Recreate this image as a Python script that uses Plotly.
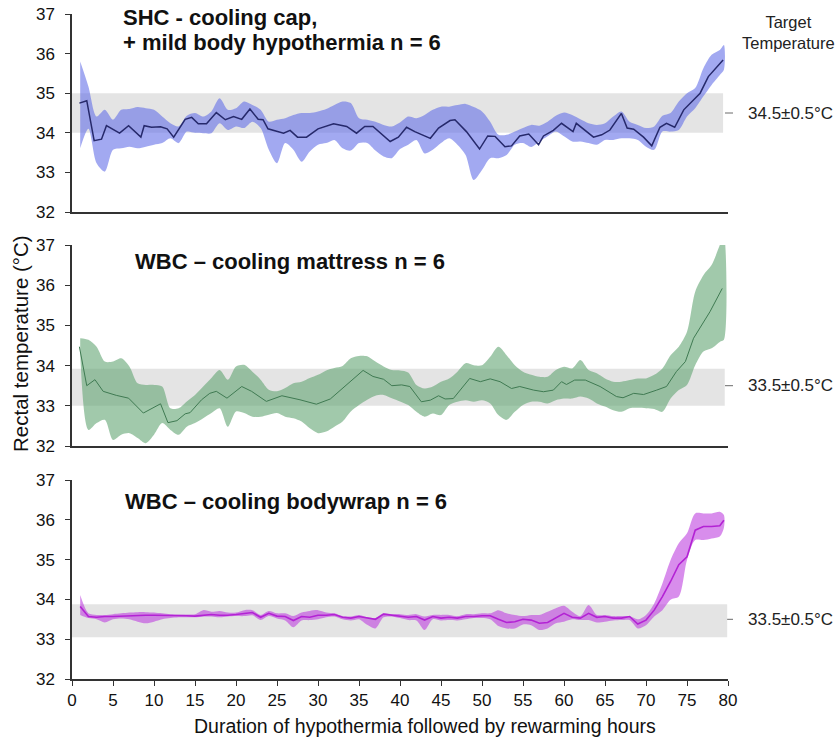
import plotly.graph_objects as go

# ---------------- data ----------------
# Panel 1: SHC - cooling cap + mild body hypothermia (mean line vertices)
shc_line_hours = [0.9, 1.8, 2.7, 3.6, 4.2, 5.8, 6.9, 8.4, 8.8, 9.7, 10.8, 11.6, 12.4, 13.8, 14.6, 15.4,
                  16.4, 17.6, 18.7, 19.7, 20.7, 21.7, 22.7, 23.3, 23.9, 25.8, 26.6, 27.5, 28.6, 30.0,
                  31.9, 33.5, 34.7, 35.7, 36.7, 37.8, 38.8, 39.8, 40.8, 41.8, 43.7, 44.7, 46.1, 46.7,
                  48.1, 49.7, 50.7, 51.6, 52.8, 53.6, 54.6, 55.7, 56.9, 57.5, 58.7, 59.7, 61.1, 61.5,
                  63.6, 64.6, 65.6, 67.0, 67.7, 68.5, 69.7, 70.7, 71.7, 72.5, 73.5, 74.6, 76.6, 77.6, 79.4]
shc_mean = [34.75, 34.81, 33.80, 33.84, 34.18, 33.99, 34.18, 33.89, 34.18, 34.14, 34.15, 34.10, 33.89,
            34.34, 34.39, 34.23, 34.23, 34.51, 34.33, 34.41, 34.34, 34.60, 34.34, 34.33, 34.10, 33.99,
            34.06, 33.89, 33.89, 34.10, 34.23, 34.16, 33.99, 34.16, 34.16, 33.95, 33.78, 33.89, 34.14,
            34.03, 33.86, 34.12, 34.31, 34.33, 34.03, 33.59, 33.92, 33.91, 33.65, 33.67, 33.92, 33.97,
            33.70, 33.92, 34.06, 34.24, 34.03, 34.24, 33.89, 33.95, 34.07, 34.49, 34.12, 34.09, 33.89,
            33.67, 34.14, 34.24, 34.14, 34.58, 35.00, 35.42, 35.84]

band_hours = list(range(1, 80)) + [79.5]
shc_upper = [35.80, 35.17, 34.41, 34.58, 34.33, 34.58, 34.60, 34.65, 34.62, 34.58,
             34.41, 34.24, 34.16, 34.43, 34.50, 34.41, 34.54, 34.87, 34.58, 34.62,
             34.79, 34.70, 34.58, 34.28, 34.33, 34.37, 34.45, 34.50, 34.50, 34.54,
             34.60, 34.70, 34.79, 34.75, 34.37, 34.33, 34.28, 34.20, 34.16, 34.26,
             34.41, 34.37, 34.45, 34.58, 34.66, 34.66, 34.70, 34.73, 34.65, 34.54,
             34.28, 33.95, 33.95, 34.03, 34.12, 34.20, 34.18, 34.28, 34.43, 34.51,
             34.45, 34.34, 34.24, 34.20, 34.24, 34.41, 34.54, 34.28, 34.20, 34.12,
             34.16, 34.43, 34.50, 34.79, 35.00, 35.13, 35.63, 35.97, 36.09, 36.22]
shc_lower = [33.61, 34.10, 33.23, 33.02, 33.57, 33.61, 33.65, 33.61, 33.65, 33.70,
             33.74, 33.86, 33.74, 34.03, 34.00, 33.99, 33.99, 34.24, 34.07, 34.16,
             34.12, 34.28, 34.12, 33.57, 33.23, 33.74, 33.57, 33.27, 33.53, 33.70,
             33.74, 33.82, 33.61, 33.55, 33.74, 33.74, 33.55, 33.40, 33.36, 33.59,
             33.70, 33.82, 33.48, 33.57, 33.74, 33.86, 33.70, 33.44, 32.81, 33.06,
             33.36, 33.36, 33.44, 33.70, 33.74, 33.64, 33.78, 33.91, 34.03, 33.91,
             33.78, 33.78, 33.74, 33.70, 33.82, 33.82, 33.86, 33.86, 33.82, 33.65,
             33.57, 34.03, 34.03, 34.07, 34.41, 34.62, 34.92, 35.21, 35.46, 35.59]

# Panel 2: WBC - cooling mattress
mat_line_hours = [0.9, 1.8, 2.8, 3.8, 5.4, 6.9, 8.7, 10.8, 11.7, 12.8, 13.8, 14.4, 15.8, 16.8, 17.6,
                  18.9, 20.7, 21.9, 23.7, 25.6, 27.8, 29.8, 31.5, 33.5, 35.5, 36.7, 38.0, 39.0, 40.2,
                  41.2, 42.6, 43.7, 44.7, 45.5, 46.5, 48.5, 49.8, 51.0, 52.2, 53.6, 54.6, 56.3, 57.5,
                  58.7, 59.7, 60.3, 61.3, 62.6, 64.4, 66.4, 67.2, 68.5, 69.7, 71.3, 72.5, 73.7, 74.8,
                  75.8, 77.8, 79.3]
mat_mean = [34.47, 33.50, 33.65, 33.36, 33.26, 33.19, 32.82, 33.05, 32.58, 32.63, 32.80, 32.83, 33.15,
            33.31, 33.36, 33.19, 33.48, 33.36, 33.11, 33.25, 33.15, 33.04, 33.17, 33.52, 33.88, 33.73,
            33.66, 33.50, 33.52, 33.48, 33.10, 33.14, 33.25, 33.17, 33.18, 33.68, 33.60, 33.67, 33.60,
            33.43, 33.48, 33.39, 33.35, 33.39, 33.60, 33.53, 33.64, 33.64, 33.48, 33.23, 33.20, 33.31,
            33.28, 33.39, 33.48, 33.85, 34.10, 34.68, 35.34, 35.92]
mat_upper = [34.68, 34.64, 34.47, 34.10, 34.10, 34.18, 33.98, 33.56, 33.52, 33.52,
             33.48, 32.94, 32.94, 33.11, 33.27, 33.48, 33.69, 33.89, 33.65, 33.98,
             34.02, 33.85, 33.65, 33.40, 33.36, 33.44, 33.56, 33.60, 33.69, 33.77,
             33.88, 33.94, 33.99, 34.18, 34.24, 34.23, 34.10, 33.98, 33.89, 33.88,
             33.83, 33.52, 33.43, 33.48, 33.60, 33.68, 33.85, 34.06, 34.01, 34.01,
             34.22, 34.47, 34.26, 34.01, 33.85, 33.77, 33.72, 33.72, 33.89, 33.97,
             33.93, 34.14, 33.89, 33.81, 33.68, 33.60, 33.60, 33.64, 33.68, 33.68,
             33.77, 33.93, 34.26, 34.47, 34.84, 35.84, 36.25, 36.50, 37.00, 37.25]
mat_lower = [34.30, 32.40, 32.57, 32.65, 32.15, 32.28, 32.32, 32.20, 32.07, 32.28,
             32.57, 32.40, 32.28, 32.48, 32.57, 32.69, 32.82, 32.94, 32.48, 32.86,
             32.82, 32.73, 32.73, 32.78, 32.82, 32.73, 32.69, 32.61, 32.44, 32.32,
             32.36, 32.48, 32.61, 32.86, 33.02, 33.15, 33.25, 33.27, 33.19, 33.11,
             33.02, 32.85, 32.73, 32.81, 32.77, 33.02, 33.10, 33.14, 33.10, 33.14,
             33.06, 32.77, 32.65, 32.85, 33.02, 33.10, 33.10, 33.06, 33.14, 33.18,
             33.18, 33.23, 33.18, 33.06, 32.98, 32.89, 32.85, 32.94, 32.95, 32.94,
             32.92, 32.85, 33.18, 33.39, 33.52, 34.01, 34.35, 34.43, 34.59, 34.64]

# Panel 3: WBC - cooling bodywrap
wrap_mean = [33.82, 33.57, 33.55, 33.57, 33.57, 33.58, 33.58, 33.59, 33.60, 33.60,
             33.60, 33.59, 33.59, 33.59, 33.58, 33.60, 33.62, 33.60, 33.60, 33.62,
             33.65, 33.67, 33.55, 33.65, 33.58, 33.57, 33.47, 33.57, 33.55, 33.60,
             33.60, 33.62, 33.55, 33.53, 33.57, 33.53, 33.50, 33.63, 33.60, 33.58,
             33.55, 33.57, 33.48, 33.57, 33.53, 33.55, 33.53, 33.57, 33.57, 33.59,
             33.59, 33.50, 33.42, 33.44, 33.50, 33.48, 33.40, 33.42, 33.53, 33.65,
             33.55, 33.53, 33.65, 33.55, 33.57, 33.53, 33.53, 33.57, 33.38, 33.48,
             33.73, 34.07, 34.45, 34.87, 35.07, 35.74, 35.83, 35.83, 35.85, 35.99]
wrap_upper = [34.11, 33.65, 33.61, 33.61, 33.63, 33.65, 33.67, 33.68, 33.68, 33.67,
              33.65, 33.63, 33.62, 33.62, 33.63, 33.73, 33.69, 33.71, 33.67, 33.67,
              33.73, 33.73, 33.61, 33.71, 33.65, 33.65, 33.58, 33.67, 33.71, 33.73,
              33.67, 33.65, 33.58, 33.57, 33.61, 33.55, 33.53, 33.65, 33.63, 33.63,
              33.61, 33.63, 33.57, 33.61, 33.61, 33.61, 33.58, 33.63, 33.63, 33.65,
              33.65, 33.73, 33.65, 33.61, 33.58, 33.61, 33.61, 33.69, 33.78, 33.84,
              33.69, 33.58, 33.86, 33.61, 33.61, 33.58, 33.58, 33.58, 33.50, 33.61,
              33.90, 34.40, 34.99, 35.41, 35.66, 36.16, 36.16, 36.16, 36.20, 36.12]
wrap_lower = [33.61, 33.53, 33.50, 33.42, 33.50, 33.52, 33.50, 33.44, 33.40, 33.44,
              33.50, 33.53, 33.55, 33.55, 33.55, 33.57, 33.57, 33.55, 33.57, 33.58,
              33.58, 33.60, 33.48, 33.58, 33.52, 33.47, 33.30, 33.47, 33.48, 33.50,
              33.55, 33.57, 33.50, 33.47, 33.50, 33.36, 33.27, 33.55, 33.57, 33.53,
              33.48, 33.47, 33.23, 33.50, 33.47, 33.48, 33.47, 33.50, 33.53, 33.53,
              33.50, 33.33, 33.27, 33.27, 33.37, 33.35, 33.23, 33.27, 33.40, 33.44,
              33.50, 33.48, 33.48, 33.42, 33.44, 33.47, 33.48, 33.48, 33.27, 33.35,
              33.57, 33.73, 33.99, 34.07, 34.99, 35.49, 35.49, 35.53, 35.58, 35.80]

panel_titles = [["SHC - cooling cap,", "+ mild body hypothermia n = 6"],
                ["WBC \u2013 cooling mattress n = 6"],
                ["WBC \u2013 cooling bodywrap n = 6"]]
targets = [34.5, 33.5, 33.5]
target_labels = ["34.5\u00b10.5\u00b0C", "33.5\u00b10.5\u00b0C", "33.5\u00b10.5\u00b0C"]
band_limits = [(34.0, 35.0), (33.0, 33.92), (33.05, 33.88)]
x_ticks = list(range(0, 85, 5))
y_ticks = [32, 33, 34, 35, 36, 37]

# ---------------- layout geometry ----------------
W, H = 840, 738
ML, MR, MT, MB = 72, 112, 14, 59
PW, PH = W - ML - MR, H - MT - MB


def px(xpix):
    return (xpix - ML) / PW


def py(ypix):
    return (H - MB - ypix) / PH


FONT = "Liberation Sans, Arial, sans-serif"
domains = [[py(212), 1.0], [py(446), py(245)], [0.0, py(480)]]
fills = ["rgba(100,112,232,0.6)", "rgba(98,165,115,0.6)", "rgba(190,65,224,0.6)"]
lines = ["#26296b", "#3f7a52", "#b322d4"]
line_w = [1.5, 1.0, 1.6]
band_end = [79.4, 79.6, 79.9]

series = [
    (shc_line_hours, shc_mean, shc_upper, shc_lower),
    (mat_line_hours, mat_mean, mat_upper, mat_lower),
    (band_hours, wrap_mean, wrap_upper, wrap_lower),
]

fig = go.Figure()
shapes = []
annotations = []
for i, (lx, ly, up, lo) in enumerate(series):
    n = "" if i == 0 else str(i + 1)
    xa, ya = "x" + n, "y" + n
    fig.add_trace(go.Scatter(
        x=band_hours + band_hours[::-1], y=up + lo[::-1],
        fill="toself", fillcolor=fills[i], line=dict(width=0, shape="spline", smoothing=0.8),
        mode="lines", xaxis=xa, yaxis=ya, hoverinfo="skip", showlegend=False))
    fig.add_trace(go.Scatter(
        x=lx, y=ly, mode="lines", line=dict(color=lines[i], width=line_w[i]),
        xaxis=xa, yaxis=ya, showlegend=False))
    lo_b, hi_b = band_limits[i]
    shapes.append(dict(type="rect", xref=xa, yref=ya, x0=0, x1=band_end[i], y0=lo_b, y1=hi_b,
                       fillcolor="#e4e4e4", line=dict(width=0), layer="below"))
    shapes.append(dict(type="line", xref="paper", yref=ya, x0=px(77), x1=px(733),
                       y0=targets[i], y1=targets[i],
                       line=dict(color="#6a6a6a", width=1, dash="dash"), layer="below"))
    annotations.append(dict(xref="paper", yref=ya, x=px(790), y=targets[i], text=target_labels[i],
                            showarrow=False, xanchor="center", yanchor="middle",
                            font=dict(family=FONT, size=17, color="#222")))

    last = i == 2
    fig.layout["xaxis" + n] = dict(
        domain=[0, 1], anchor=ya, range=[0, 80], showline=True, linecolor="#333", linewidth=1.5,
        showgrid=False, zeroline=False, showticklabels=last, ticks="outside" if last else "",
        tickvals=x_ticks, ticklen=5, tickcolor="#333", tickfont=dict(family=FONT, size=17, color="#111"),
        ticklabelstandoff=0, fixedrange=True)
    fig.layout["yaxis" + n] = dict(
        domain=domains[i], anchor=xa, range=[32, 37], showline=True, linecolor="#333", linewidth=1.5,
        showgrid=False, zeroline=False, ticks="outside", tickvals=y_ticks, ticklen=5, tickcolor="#333",
        tickfont=dict(family=FONT, size=17, color="#111"), ticklabelstandoff=7, fixedrange=True)

# panel titles
title_pos = [[(121, 18), (121, 42)], [(133, 261)], [(123, 501)]]
for lines_txt, poss in zip(panel_titles, title_pos):
    for txt, (xx, yy) in zip(lines_txt, poss):
        annotations.append(dict(xref="paper", yref="paper", x=px(xx), y=py(yy), text="<b>%s</b>" % txt,
                                showarrow=False, xanchor="left", yanchor="middle",
                                font=dict(family=FONT, size=22, color="#111")))

annotations.append(dict(xref="paper", yref="paper", x=px(788), y=py(32), text="Target<br>Temperature",
                        showarrow=False, xanchor="center", yanchor="middle",
                        font=dict(family=FONT, size=16.5, color="#222")))
annotations.append(dict(xref="paper", yref="paper", x=px(20), y=py(344), text="Rectal temperature (\u00b0C)",
                        textangle=-90, showarrow=False, xanchor="center", yanchor="middle",
                        font=dict(family=FONT, size=20.5, color="#111")))
annotations.append(dict(xref="paper", yref="paper", x=px(425), y=py(726),
                        text="Duration of hypothermia followed by rewarming hours",
                        showarrow=False, xanchor="center", yanchor="middle",
                        font=dict(family=FONT, size=19.5, color="#111")))

fig.update_layout(
    width=W, height=H, margin=dict(l=ML, r=MR, t=MT, b=MB, autoexpand=False),
    paper_bgcolor="white", plot_bgcolor="white", showlegend=False,
    shapes=shapes, annotations=annotations, font=dict(family=FONT), hovermode=False)

fig.write_html("out.html", config={"displayModeBar": False})
